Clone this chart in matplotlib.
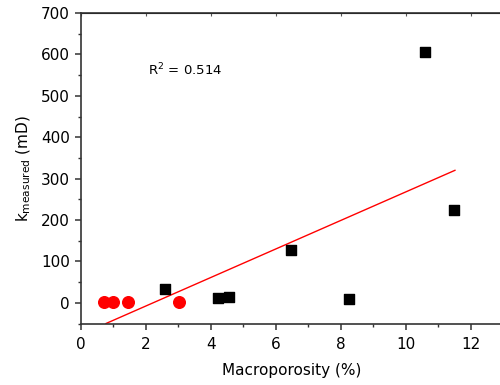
import matplotlib
matplotlib.use('Agg')
import matplotlib.pyplot as plt
from matplotlib.ticker import MultipleLocator

# red circles
red_x = [0.70, 0.98, 1.46, 3.01]
red_y = [2, 2, 2, 2]

# black squares
sq_x = [2.59, 4.22, 4.55, 6.48, 8.25, 10.59, 11.49]
sq_y = [33, 11, 15, 128, 10, 605, 223]

# fitted line (end points)
fit_x = [0.77, 11.52]
fit_y = [-50, 320]

r2_text = 'R$^2$ = 0.514'

fig = plt.figure(figsize=(5, 3.85), dpi=100)
ax = fig.add_axes([81 / 500, 1 - 323.5 / 385, 422 / 500, (323.5 - 13) / 385])

ax.scatter(red_x, red_y, s=70, color='#ff0000', marker='o', zorder=3)
ax.scatter(sq_x, sq_y, s=55, color='black', marker='s', zorder=3)
ax.plot(fit_x, fit_y, color='#ff0000', lw=1.0)

ax.set_xlim(0, 13)
ax.set_ylim(-50, 700)
ax.xaxis.set_major_locator(MultipleLocator(2))
ax.xaxis.set_minor_locator(MultipleLocator(1))
ax.yaxis.set_major_locator(MultipleLocator(100))
ax.yaxis.set_minor_locator(MultipleLocator(50))

for s in ax.spines.values():
    s.set_color('#333333')
    s.set_linewidth(1.2)
ax.spines['right'].set_visible(False)

ax.tick_params(which='major', direction='out', length=4, width=1.1, color='#333333',
               labelsize=11, pad=4)
ax.tick_params(which='minor', direction='out', length=2.5, width=1.0, color='#333333')
ax.tick_params(axis='x', which='major', pad=6)
ax.secondary_xaxis('top').tick_params(which='both', direction='in', length=2,
                                      labeltop=False, color='#555555')

ax.text(148 / 500, 1 - 70 / 385, r2_text, transform=fig.transFigure, fontsize=9.5,
        va='center')

ax.set_xlabel('Macroporosity (%)', fontsize=11, labelpad=8)
ax.set_ylabel(r'k$_{\mathregular{measured}}$ (mD)', fontsize=11, labelpad=6)

fig.savefig('out.png', dpi=100)
